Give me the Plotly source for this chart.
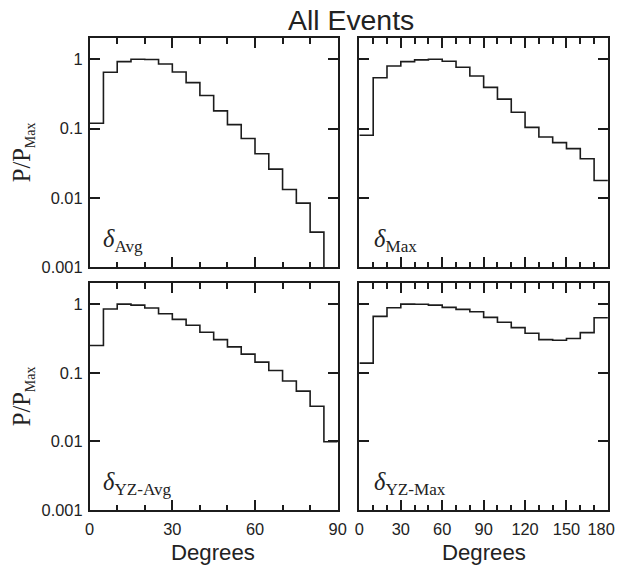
import plotly.graph_objects as go

# ---- data ----
edges_90 = [0, 5, 10, 15, 20, 25, 30, 35, 40, 45, 50, 55, 60, 65, 70, 75, 80, 85, 90]
edges_180 = [0, 10, 20, 30, 40, 50, 60, 70, 80, 90, 100, 110, 120, 130, 140, 150, 160, 170, 180]

delta_avg = [0.119, 0.65, 0.925, 1.0, 0.99, 0.855, 0.655, 0.46, 0.30, 0.18,
             0.114, 0.072, 0.0434, 0.026, 0.0132, 0.0084, 0.0032, 0.0]
delta_max = [0.080, 0.54, 0.80, 0.925, 0.98, 1.0, 0.935, 0.766, 0.573, 0.393,
             0.266, 0.172, 0.104, 0.0757, 0.0627, 0.0513, 0.0367, 0.0178]
delta_yz_avg = [0.249, 0.847, 1.0, 0.967, 0.875, 0.724, 0.60, 0.491, 0.389, 0.304,
                0.238, 0.187, 0.143, 0.108, 0.0758, 0.054, 0.0325, 0.0099]
delta_yz_max = [0.138, 0.663, 0.885, 1.0, 0.995, 0.967, 0.895, 0.837, 0.774, 0.641,
                0.543, 0.454, 0.376, 0.304, 0.297, 0.315, 0.384, 0.634]

ytick_vals = [0.001, 0.01, 0.1, 1]
ytick_text = ["0.001", "0.01", "0.1", "1"]
xticks_90 = [0, 30, 60, 90]
xticks_180 = [0, 30, 60, 90, 120, 150, 180]
xtext_90 = ["0", "30", "60", "90"]
# the last label is padded so it stays inside the page edge
xtext_180 = ["0", "30", "60", "90", "120", "150", "180\u00a0\u00a0\u00a0"]

panel_labels = ["<i>δ</i><sub>Avg</sub>", "<i>δ</i><sub>Max</sub>",
                "<i>δ</i><sub>YZ-Avg</sub>", "<i>δ</i><sub>YZ-Max</sub>"]
title_text = "All Events"
x_title = "Degrees"
y_title = "P/P<sub><span style='font-size:14px'>Max</span></sub>"

# ---- layout constants ----
# Positions are given in picture pixels and mapped to figure pixels with the
# calibration measured from earlier renders (page margin + capture scaling).
SX, BX, SY = 0.972, 4.0, 0.984
MARGIN = 8
W, H = 628, 564
K = 1 / 0.978  # size scale for fonts and tick lengths
LINE = "#1c1c1c"
SANS = "Liberation Sans, Arial, sans-serif"
SERIF = "Liberation Serif, Times New Roman, serif"


def px(X):
    return ((X - BX) / SX - MARGIN) / W


def py(Y):
    return 1 - (Y / SY - MARGIN) / H


xdom_left = [px(89.5), px(341)]
xdom_right = [px(363), px(615)]
ydom_top = [py(267), py(38)]
ydom_bot = [py(510), py(283)]

fig = go.Figure()

panels = [
    (delta_avg, edges_90, "x", "y"),
    (delta_max, edges_180, "x2", "y2"),
    (delta_yz_avg, edges_90, "x3", "y3"),
    (delta_yz_max, edges_180, "x4", "y4"),
]

for vals, edges, xa, ya in panels:
    yv = [v if v > 0 else 1e-6 for v in vals]
    fig.add_trace(go.Scatter(
        x=edges, y=yv + [yv[-1]], mode="lines", line_shape="hv",
        line=dict(color=LINE, width=1.6), xaxis=xa, yaxis=ya,
        showlegend=False, hoverinfo="skip"))


def xaxis(domain, anchor, rng, ticks, text, show_labels):
    return dict(
        domain=domain, anchor=anchor, range=rng, tickvals=ticks, ticktext=text,
        showticklabels=show_labels, ticks="inside", ticklen=10 * K, tickwidth=1.5,
        tickcolor=LINE, showline=True, linecolor=LINE, linewidth=1.6,
        mirror="allticks", showgrid=False, zeroline=False, ticklabelstandoff=3,
        ticklabeloverflow="allow",
        tickfont=dict(family=SANS, size=16.4, color="#222"),
        minor=dict(dtick=10, tick0=0, ticks="inside", ticklen=5.5 * K, tickwidth=1.5,
                   tickcolor=LINE, showgrid=False),
    )


def yaxis(domain, anchor, show_labels):
    return dict(
        domain=domain, anchor=anchor, type="log", range=[-3, 0.305],
        tickvals=ytick_vals, ticktext=ytick_text, showticklabels=show_labels,
        ticks="inside", ticklen=10 * K, tickwidth=1.5, tickcolor=LINE,
        showline=True, linecolor=LINE, linewidth=1.6, mirror="allticks",
        showgrid=False, zeroline=False, ticklabelstandoff=2,
        tickfont=dict(family=SANS, size=16.4, color="#222"),
    )


fig.update_layout(
    width=W, height=H, margin=dict(l=0, r=0, t=0, b=0),
    paper_bgcolor="white", plot_bgcolor="white",
    xaxis=xaxis(xdom_left, "y", [0, 90], xticks_90, xtext_90, False),
    yaxis=yaxis(ydom_top, "x", True),
    xaxis2=xaxis(xdom_right, "y2", [0, 180], xticks_180, xtext_180, False),
    yaxis2=yaxis(ydom_top, "x2", False),
    xaxis3=xaxis(xdom_left, "y3", [0, 90], xticks_90, xtext_90, True),
    yaxis3=yaxis(ydom_bot, "x3", True),
    xaxis4=xaxis(xdom_right, "y4", [0, 180], xticks_180, xtext_180, True),
    yaxis4=yaxis(ydom_bot, "x4", False),
)

ann = []
ann.append(dict(text=title_text, x=px(354), y=py(20.3), xref="paper", yref="paper",
                xanchor="center", yanchor="middle", showarrow=False,
                font=dict(family=SANS, size=28.4, color="#222")))
for X in (215, 489):
    ann.append(dict(text=x_title, x=px(X), y=py(552.5),
                    xref="paper", yref="paper", xanchor="center", yanchor="middle",
                    showarrow=False, font=dict(family=SANS, size=22.2, color="#222")))
for Y in (152, 396):
    ann.append(dict(text=y_title, x=px(22), y=py(Y),
                    xref="paper", yref="paper", xanchor="center", yanchor="middle",
                    textangle=-90, showarrow=False,
                    font=dict(family=SERIF, size=24.5, color="#222")))
for lbl, X, Y in zip(panel_labels, [101, 376, 101, 376], [240, 240, 483, 483]):
    ann.append(dict(text=lbl, x=px(X), y=py(Y), xref="paper", yref="paper",
                    xanchor="left", yanchor="middle", showarrow=False,
                    font=dict(family=SERIF, size=24.5, color="#222")))
fig.update_layout(annotations=ann)

fig.write_html("out.html")
